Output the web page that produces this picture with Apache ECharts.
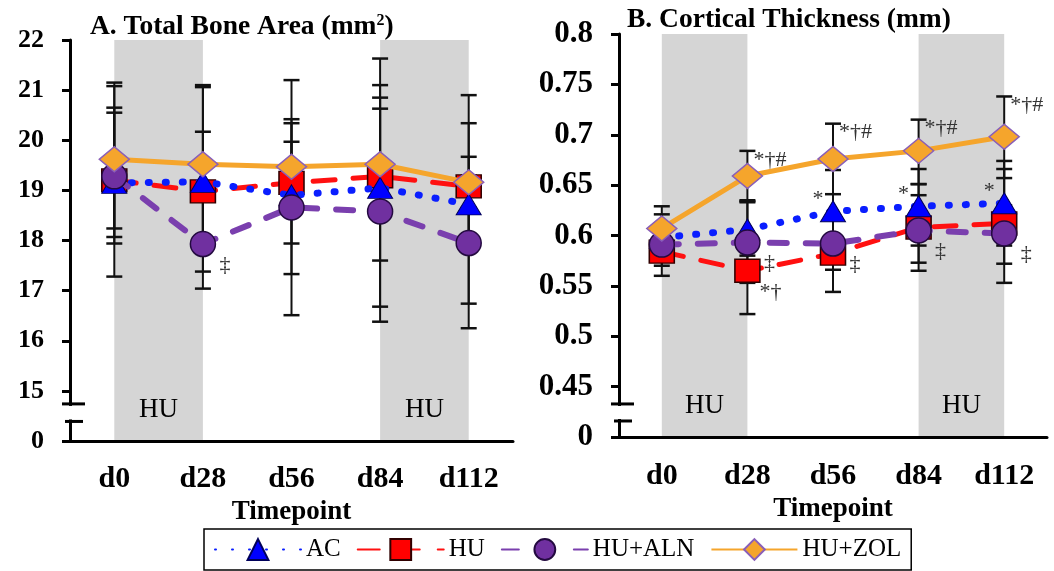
<!DOCTYPE html>
<html><head><meta charset="utf-8">
<script src="https://cdn.jsdelivr.net/npm/echarts@6/dist/echarts.min.js"></script>
<style>html,body{margin:0;padding:0;background:#fff}#c{width:1054px;height:571px}</style>
</head><body><div id="c"></div>
<script>
// ---------------- DATA ----------------
const categories = ['d0', 'd28', 'd56', 'd84', 'd112'];
const seriesNames = ['AC', 'HU', 'HU+ALN', 'HU+ZOL'];

// Panel A: Total bone area (mm²) – means
const areaAC  = [19.15, 19.17, 18.90, 19.05, 18.72];
const areaHU  = [19.20, 18.98, 19.15, 19.28, 19.08];
const areaALN = [19.28, 17.93, 18.66, 18.58, 17.95];
const areaZOL = [19.62, 19.52, 19.47, 19.52, 19.16];
// Panel A – error bar ends (low / high)
const areaLowAC   = [17.28, 18.10, 17.33, 18.60, 16.74];
const areaHighAC  = [21.15, 20.17, 19.97, 20.85, 20.90];
const areaLowHU   = [18.07, 17.04, 17.94, 16.68, 18.00];
const areaHighHU  = [20.55, 21.06, 20.42, 21.10, 20.34];
const areaLowALN  = [17.94, 17.38, 16.51, 16.38, 16.25];
const areaHighALN = [20.65, 18.80, 20.34, 20.63, 19.30];
const areaLowZOL  = [18.24, 17.92, 18.60, 17.60, 18.65];
const areaHighZOL = [21.08, 21.10, 21.20, 21.63, 19.67];
const areaAnnotALN = ['', '‡', '', '', ''];
const areaTicks = [15, 16, 17, 18, 19, 20, 21, 22];
const areaAxisMin = 14;            // shown as "0" below the axis break
const areaBreak = [14.39, 14.74];  // axis break (lower end, upper end)

// Panel B: Cortical thickness (mm) – means
const thickAC  = [0.598, 0.606, 0.624, 0.629, 0.632];
const thickHU  = [0.584, 0.565, 0.582, 0.608, 0.612];
const thickALN = [0.591, 0.593, 0.592, 0.605, 0.602];
const thickZOL = [0.607, 0.659, 0.676, 0.684, 0.698];
const thickLowAC   = [0.575, 0.580, 0.580, 0.590, 0.590];
const thickHighAC  = [0.621, 0.634, 0.665, 0.666, 0.674];
const thickLowHU   = [0.560, 0.522, 0.544, 0.565, 0.553];
const thickHighHU  = [0.605, 0.600, 0.620, 0.651, 0.666];
const thickLowALN  = [0.570, 0.553, 0.566, 0.573, 0.572];
const thickHighALN = [0.612, 0.633, 0.620, 0.640, 0.630];
const thickLowZOL  = [0.586, 0.635, 0.641, 0.651, 0.657];
const thickHighZOL = [0.629, 0.684, 0.711, 0.715, 0.738];
const thickAnnotAC  = ['', '', '*', '*', '*'];
const thickAnnotHU  = ['', '*†', '', '', ''];
const thickAnnotALN = ['', '‡', '‡', '‡', '‡'];
const thickAnnotZOL = ['', '*†#', '*†#', '*†#', '*†#'];
const thickTicks = [0.45, 0.5, 0.55, 0.6, 0.65, 0.7, 0.75, 0.8];
const thickAxisMin = 0.4;              // shown as "0" below the axis break
const thickBreak = [0.4159, 0.4328];   // axis break (lower end, upper end)

// ---------------- STYLES ----------------
const FONT = '"Liberation Serif", "Times New Roman", serif';
const GRIDS = [
  { left: 70, top: 40, width: 443, height: 401 },
  { left: 619, top: 34, width: 428, height: 403 }
];
const STY = {
  'AC': {
    symbol: 'triangle', size: [25, 21],
    item: { color: '#0000ff', borderColor: '#00005a', borderWidth: 1 },
    line: { color: '#0a1eff', width: 7, type: [1, 16], cap: 'round' },
    annot: { anchor: 'mean', dx: -15, dy: -12, align: 'center', font: '22px ' + FONT }
  },
  'HU': {
    symbol: 'rect', size: [25, 23],
    item: { color: '#ff0000', borderColor: '#300000', borderWidth: 1.5 },
    line: { color: '#ff1010', width: 5, type: [22, 18], cap: 'round' },
    annot: { anchor: 'mean', dx: 12, dy: 21, align: 'left', font: '22px ' + FONT }
  },
  'HU+ALN': {
    symbol: 'circle', size: 25,
    item: { color: '#7030a0', borderColor: '#240a40', borderWidth: 1.5 },
    line: { color: '#7a3fae', width: 6, type: [17, 19], cap: 'round' },
    annot: { anchor: 'mean', dx: 22, dy: 21, align: 'center', font: '22px ' + FONT }
  },
  'HU+ZOL': {
    symbol: 'diamond', size: [30, 25],
    item: { color: '#f5a52c', borderColor: '#8a5fb8', borderWidth: 1.5 },
    line: { color: '#f5a52c', width: 5, type: 'solid' },
    annot: { anchor: 'high', dx: 6, dy: 9, align: 'left', font: '22px ' + FONT }
  }
};
const DRAW_ORDER = ['HU', 'AC', 'HU+ALN', 'HU+ZOL'];

// ---------------- BUILD ----------------
function lineSeries(name, gi, means) {
  const s = STY[name];
  return {
    type: 'line', name, xAxisIndex: gi, yAxisIndex: gi,
    z: 4 + DRAW_ORDER.indexOf(name) * 0.1,
    data: means, symbol: s.symbol, symbolSize: s.size,
    itemStyle: Object.assign({}, s.item),
    lineStyle: Object.assign({}, s.line),
    showAllSymbol: true
  };
}
function errorSeries(name, gi, means, lows, highs, annots) {
  const a = STY[name].annot;
  return {
    type: 'custom', name, xAxisIndex: gi, yAxisIndex: gi, z: 3, silent: true,
    data: means.map((m, i) => [i, lows[i], highs[i], m]),
    renderItem: function (params, api) {
      const i = api.value(0);
      const pLo = api.coord([i, api.value(1)]);
      const pHi = api.coord([i, api.value(2)]);
      const pM = api.coord([i, api.value(3)]);
      const x = pLo[0], cw = 8;
      const ch = [
        { type: 'line', shape: { x1: x, y1: pLo[1], x2: x, y2: pHi[1] }, style: { stroke: '#111', lineWidth: 2 } },
        { type: 'line', shape: { x1: x - cw, y1: pHi[1], x2: x + cw, y2: pHi[1] }, style: { stroke: '#111', lineWidth: 2.5 } },
        { type: 'line', shape: { x1: x - cw, y1: pLo[1], x2: x + cw, y2: pLo[1] }, style: { stroke: '#111', lineWidth: 2.5 } }
      ];
      const txt = annots && annots[params.dataIndex];
      if (txt) {
        const by = a.anchor === 'high' ? pHi[1] : pM[1];
        ch.push({ type: 'text', x: x + a.dx, y: by + a.dy,
          style: { text: txt, fill: '#333', font: a.font, align: a.align, verticalAlign: 'middle' } });
      }
      return { type: 'group', children: ch };
    }
  };
}
function bandSeries(gi) {
  return {
    type: 'line', name: 'band' + gi, xAxisIndex: gi, yAxisIndex: gi, z: 1, data: [], silent: true,
    markArea: {
      silent: true,
      itemStyle: { color: '#d5d5d5', opacity: 1 },
      label: { show: true, position: 'insideBottom', distance: 18, color: '#000',
               fontFamily: FONT, fontSize: 27, fontWeight: 'normal' },
      data: [
        [{ name: 'HU', xAxis: categories[0] }, { xAxis: categories[1] }],
        [{ name: 'HU', xAxis: categories[3] }, { xAxis: categories[4] }]
      ]
    }
  };
}
function xAxisOpt(gi, labelMargin, nameGap) {
  return {
    type: 'category', gridIndex: gi, data: categories, boundaryGap: true, z: 10,
    axisLine: { lineStyle: { color: '#000', width: 3 } },
    axisTick: { alignWithLabel: true, length: 7, lineStyle: { color: '#000', width: 3 } },
    axisLabel: { color: '#000', fontFamily: FONT, fontWeight: 'bold', fontSize: 30, margin: labelMargin },
    splitLine: { show: false },
    name: 'Timepoint', nameLocation: 'middle', nameGap: nameGap,
    nameTextStyle: { color: '#000', fontFamily: FONT, fontWeight: 'bold', fontSize: 27 }
  };
}
function yAxisOpt(gi, min, max, ticks, fontSize, margin) {
  const vals = [min].concat(ticks);
  return {
    type: 'value', gridIndex: gi, min: min, max: max, z: 10,
    splitLine: { show: false },
    axisLine: { show: true, lineStyle: { color: '#000', width: 3 } },
    axisTick: { show: true, customValues: vals, length: 8, lineStyle: { color: '#000', width: 3 } },
    axisLabel: { customValues: vals, formatter: v => (v === min ? '0' : String(v)),
                 color: '#000', fontFamily: FONT, fontWeight: 'bold', fontSize: fontSize, margin: margin }
  };
}

const series = [
  lineSeries('AC', 0, areaAC), lineSeries('HU', 0, areaHU),
  lineSeries('HU+ALN', 0, areaALN), lineSeries('HU+ZOL', 0, areaZOL),
  lineSeries('AC', 1, thickAC), lineSeries('HU', 1, thickHU),
  lineSeries('HU+ALN', 1, thickALN), lineSeries('HU+ZOL', 1, thickZOL),
  errorSeries('AC', 0, areaAC, areaLowAC, areaHighAC, null),
  errorSeries('HU', 0, areaHU, areaLowHU, areaHighHU, null),
  errorSeries('HU+ALN', 0, areaALN, areaLowALN, areaHighALN, areaAnnotALN),
  errorSeries('HU+ZOL', 0, areaZOL, areaLowZOL, areaHighZOL, null),
  errorSeries('AC', 1, thickAC, thickLowAC, thickHighAC, thickAnnotAC),
  errorSeries('HU', 1, thickHU, thickLowHU, thickHighHU, thickAnnotHU),
  errorSeries('HU+ALN', 1, thickALN, thickLowALN, thickHighALN, thickAnnotALN),
  errorSeries('HU+ZOL', 1, thickZOL, thickLowZOL, thickHighZOL, thickAnnotZOL),
  bandSeries(0), bandSeries(1)
];

const chart = echarts.init(document.getElementById('c'), null, { renderer: 'canvas' });
chart.setOption({
  animation: false,
  backgroundColor: '#fff',
  title: [
    { text: 'A. Total Bone Area (mm{sup|2})', left: 90, top: 13, padding: 0,
      textStyle: { color: '#000', fontFamily: FONT, fontWeight: 'bold', fontSize: 27.5,
        rich: { sup: { fontSize: 16, fontFamily: FONT, fontWeight: 'bold', color: '#000', verticalAlign: 'top', padding: [0, 0, 12, 0] } } } },
    { text: 'B. Cortical Thickness (mm)', left: 627, top: 6, padding: 0,
      textStyle: { color: '#000', fontFamily: FONT, fontWeight: 'bold', fontSize: 27.5 } }
  ],
  legend: {
    data: seriesNames, left: 204, top: 529, orient: 'horizontal',
    itemWidth: 86, itemHeight: 26, itemGap: 16, padding: [8, 10, 8, 10],
    borderColor: '#000', borderWidth: 1.5, borderRadius: 0, backgroundColor: '#fff',
    textStyle: { color: '#000', fontFamily: FONT, fontSize: 25 }
  },
  grid: GRIDS.map(g => Object.assign({ containLabel: false }, g)),
  xAxis: [xAxisOpt(0, 23, 55), xAxisOpt(1, 24, 59)],
  yAxis: [
    yAxisOpt(0, areaAxisMin, 22, areaTicks, 26, 26),
    yAxisOpt(1, thickAxisMin, 0.8, thickTicks, 31, 26)
  ],
  series: series
});

// axis break decoration (gap in the axis line with two break marks)
function breakGraphics(gi, brk) {
  const x = GRIDS[gi].left;
  const yLo = chart.convertToPixel({ yAxisIndex: gi }, brk[0]);
  const yHi = chart.convertToPixel({ yAxisIndex: gi }, brk[1]);
  return [
    { type: 'rect', z: 100, shape: { x: x - 3, y: yHi + 2, width: 6, height: yLo - yHi - 4 }, style: { fill: '#fff' } },
    { type: 'line', z: 101, shape: { x1: x - 8, y1: yHi, x2: x + 15, y2: yHi }, style: { stroke: '#000', lineWidth: 3 } },
    { type: 'line', z: 101, shape: { x1: x - 5, y1: yLo, x2: x + 13, y2: yLo }, style: { stroke: '#000', lineWidth: 3 } }
  ];
}
chart.setOption({ graphic: breakGraphics(0, areaBreak).concat(breakGraphics(1, thickBreak)) });
</script>
</body></html>
